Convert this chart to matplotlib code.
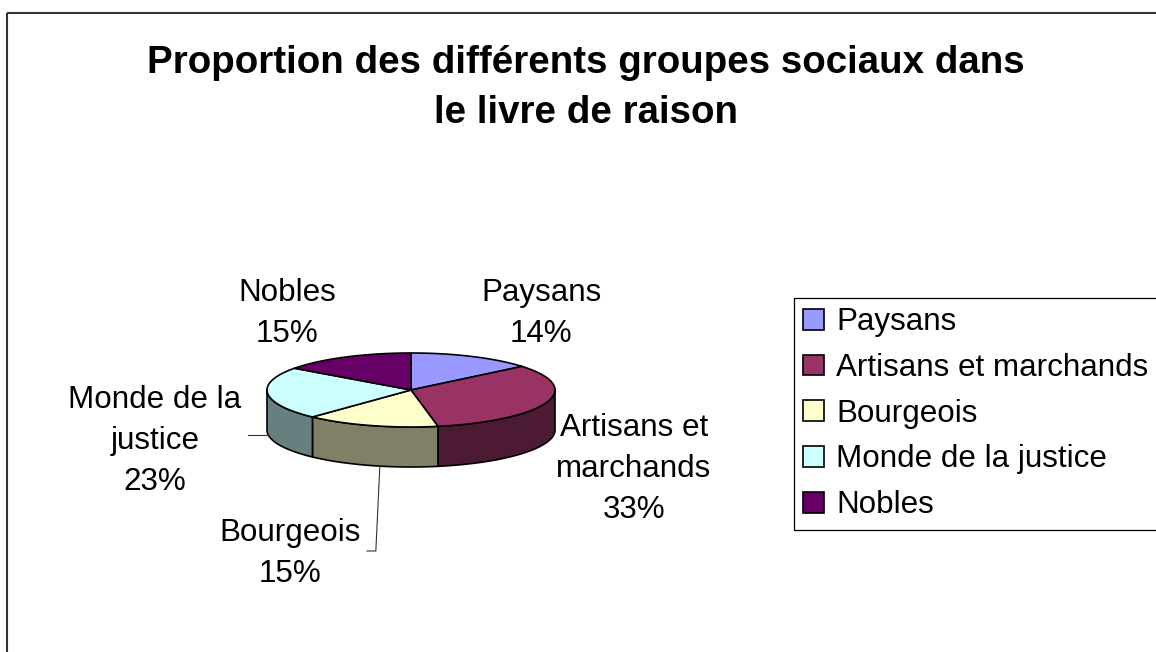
import numpy as np
import matplotlib.pyplot as plt
from matplotlib.patches import Polygon, Rectangle, Patch

plt.rcParams['font.family'] = ['Liberation Sans', 'DejaVu Sans']

# data
groups = ['Paysans', 'Artisans et marchands', 'Bourgeois', 'Monde de la justice', 'Nobles']
label_names = ['Paysans', 'Artisans et\nmarchands', 'Bourgeois', 'Monde de la\njustice', 'Nobles']
shares = [14, 33, 15, 23, 15]
top_colors = ['#9999FF', '#993366', '#FFFFCC', '#CCFFFF', '#660066']
side_colors = ['#4C4C80', '#4C1A33', '#808066', '#668080', '#330033']

title = 'Proportion des différents groupes sociaux dans\nle livre de raison'

# pie geometry (pixels)
cx, cy, rx, ry, depth = 411, 390, 144, 37, 40

# label placement: (center x, top y)
label_pos = [(541, 278), (634, 413), (290, 518), (155, 385), (287, 278)]


def top_pt(theta, dy=0):
    t = np.radians(theta)
    return cx + rx * np.sin(t), cy - ry * np.cos(t) + dy


fig = plt.figure(figsize=(11.56, 6.52), dpi=100)
ax = fig.add_axes([0, 0, 1, 1])
ax.set_xlim(0, 1156)
ax.set_ylim(652, 0)
ax.axis('off')

# chart border
ax.add_patch(Rectangle((7, 13), 1160, 660, fill=False, ec='#333333', lw=1.5))

fracs = np.array(shares) / sum(shares)
edges = np.concatenate([[0], np.cumsum(fracs) * 360])

# side walls (front half only)
for i in range(len(shares)):
    a0, a1 = max(edges[i], 90), min(edges[i + 1], 270)
    if a1 <= a0:
        continue
    th = np.linspace(a0, a1, 60)
    upper = [top_pt(t) for t in th]
    lower = [top_pt(t, depth) for t in th[::-1]]
    ax.add_patch(Polygon(upper + lower, closed=True, fc=side_colors[i],
                         ec='black', lw=1.2, joinstyle='round'))

# top faces
for i in range(len(shares)):
    th = np.linspace(edges[i], edges[i + 1], 80)
    pts = [(cx, cy)] + [top_pt(t) for t in th]
    ax.add_patch(Polygon(pts, closed=True, fc=top_colors[i],
                         ec='black', lw=1.2, joinstyle='round'))

# data labels
for i, (x, y) in enumerate(label_pos):
    ax.text(x, y, f'{label_names[i]}\n{shares[i]}%', ha='center', va='top',
            fontsize=22.6, linespacing=1.48, color='black')

# leader lines
mx, my = top_pt(263, depth)
ax.plot([248, mx], [my, my], color='#333333', lw=0.8)
bx, by = top_pt(192.5, depth)
ax.plot([bx, bx - 4, 367], [by, 551, 551], color='#333333', lw=0.8)

# title
ax.text(586, 45, title, ha='center', va='top', fontsize=27.7,
        fontweight='bold', linespacing=1.5)

# legend
handles = [Patch(facecolor=c, edgecolor='black', lw=1.2, label=g)
           for g, c in zip(groups, top_colors)]
leg = ax.legend(handles=handles, loc='upper left', bbox_to_anchor=(794, 298),
                bbox_transform=ax.transData, borderaxespad=0, borderpad=0.3,
                fontsize=22.6, handlelength=0.64, handleheight=0.64,
                handletextpad=0.4, labelspacing=0.5, fancybox=False,
                edgecolor='black', framealpha=1)
leg.get_frame().set_linewidth(0.9)

fig.savefig('out.png', dpi=100)
